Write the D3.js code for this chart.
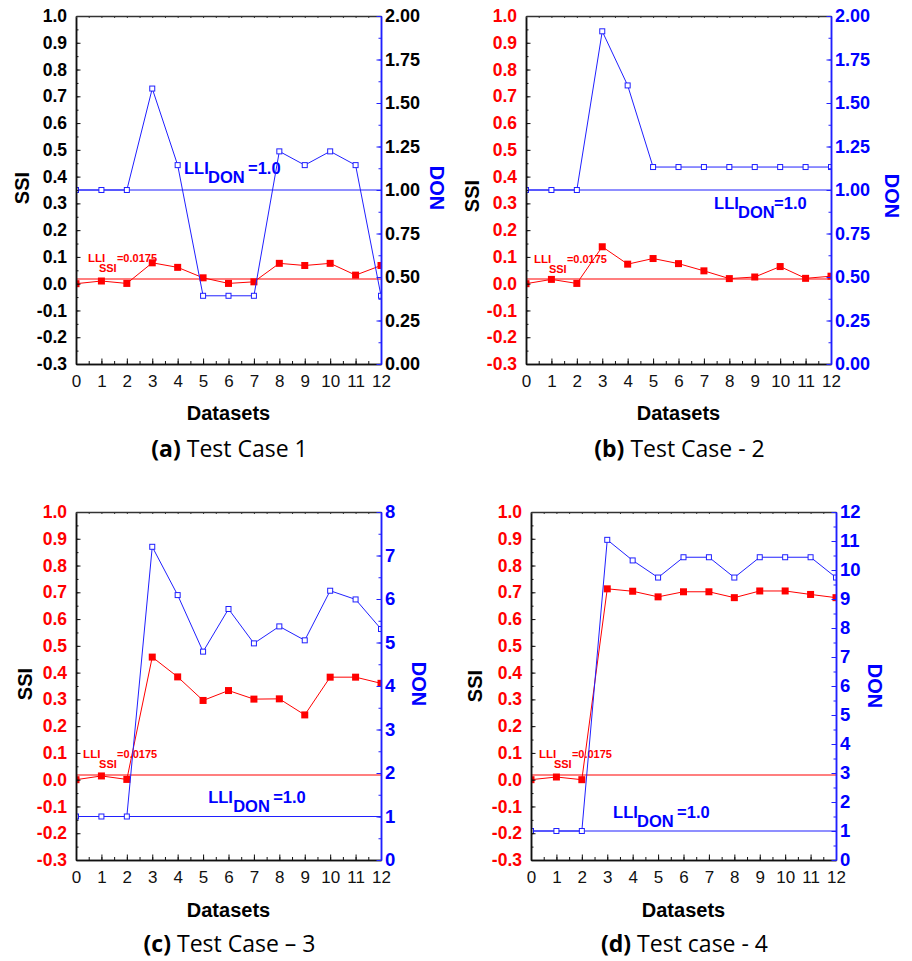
<!DOCTYPE html>
<html>
<head>
<meta charset="utf-8">
<script src="https://cdn.jsdelivr.net/npm/d3@7"></script>
<style>
  body { margin: 0; background: #fff; }
  svg text { font-family: "Liberation Sans", Arial, sans-serif; }
</style>
</head>
<body>
<div id="container"></div>
<script>
// Data
const datasets = d3.range(0, 13);
const ssiTicks = d3.range(-3, 11).map(d => d / 10);
const ssiMinor = d3.range(-6, 21).map(d => d / 20);

const ssiCase1 = [0.000, 0.010, 0.001, 0.078, 0.061, 0.022, 0.001, 0.007, 0.076, 0.068, 0.076, 0.032, 0.068];
const donCase1 = [1.00, 1.00, 1.00, 1.583, 1.143, 0.392, 0.392, 0.392, 1.222, 1.143, 1.222, 1.143, 0.392];
const ssiCase2 = [0.000, 0.016, 0.001, 0.138, 0.073, 0.094, 0.075, 0.048, 0.019, 0.025, 0.064, 0.020, 0.028];
const donCase2 = [1.00, 1.00, 1.00, 1.912, 1.601, 1.132, 1.132, 1.132, 1.132, 1.132, 1.132, 1.132, 1.132];
const ssiCase3 = [0.000, 0.014, 0.001, 0.458, 0.384, 0.296, 0.333, 0.301, 0.302, 0.242, 0.383, 0.383, 0.360];
const donCase3 = [1.00, 1.00, 1.00, 7.20, 6.09, 4.79, 5.77, 4.98, 5.37, 5.05, 6.19, 5.99, 5.31];
const ssiCase4 = [0.000, 0.010, 0.000, 0.713, 0.704, 0.683, 0.702, 0.702, 0.680, 0.705, 0.705, 0.692, 0.680];
const donCase4 = [1.00, 1.00, 1.00, 11.04, 10.33, 9.74, 10.44, 10.44, 9.74, 10.44, 10.44, 10.44, 9.74];

const lliSSI = 0.0175;
const lliDON = 1.0;

const donTicksSmall = d3.range(0, 9).map(d => d / 4);     // 0.00 .. 2.00
const donMinorSmall = d3.range(0, 17).map(d => d / 8);
const donTicks8 = d3.range(0, 9);
const donMinor8 = d3.range(0, 17).map(d => d / 2);
const donTicks12 = d3.range(0, 13);
const donMinor12 = d3.range(0, 25).map(d => d / 2);

const captionTags = ["(a)", "(b)", "(c)", "(d)"];
const captionTexts = [" Test Case 1", " Test Case - 2", " Test Case \u2013 3", " Test case - 4"];

const RED = "#ff0000";
const BLUE = "#0000ff";
const LINE_BLUE = "#2020ff";

const width = 912, height = 961;

// Panel layout (pixel boxes) + per-panel styling
const panels = [
  { x0: 76, x1: 381, y0: 16, y1: 364, ssi: ssiCase1, don: donCase1, donMax: 2, donTicks: donTicksSmall, donMinor: donMinorSmall, donFmt: d => d.toFixed(2),
    leftColor: "#000", rightColor: "#000", rightSize: 18,
    ssiLab: [0.47, 0.081, 11, 29], donLab: [4.25, 0.41, 24, 64], ssiTitleX: 22, donTitleX: 437, titleY: 188, dataY: 420, capY: 457 },
  { x0: 526, x1: 831, y0: 16, y1: 364, ssi: ssiCase2, don: donCase2, donMax: 2, donTicks: donTicksSmall, donMinor: donMinorSmall, donFmt: d => d.toFixed(2),
    leftColor: RED, rightColor: BLUE, rightSize: 18,
    ssiLab: [0.31, 0.077, 15, 33], donLab: [7.40, 0.279, 24, 60], ssiTitleX: 472, donTitleX: 892, titleY: 196, dataY: 420, capY: 457 },
  { x0: 76, x1: 381, y0: 512, y1: 860, ssi: ssiCase3, don: donCase3, donMax: 8, donTicks: donTicks8, donMinor: donMinor8, donFmt: d3.format("d"),
    leftColor: RED, rightColor: BLUE, rightSize: 18.5,
    ssiLab: [0.28, 0.081, 16, 34], donLab: [5.2, -0.087, 25, 65], ssiTitleX: 25, donTitleX: 419, titleY: 684, dataY: 917, capY: 952 },
  { x0: 531, x1: 836, y0: 512, y1: 860, ssi: ssiCase4, don: donCase4, donMax: 12, donTicks: donTicks12, donMinor: donMinor12, donFmt: d3.format("d"),
    leftColor: RED, rightColor: BLUE, rightSize: 18.5,
    ssiLab: [0.31, 0.081, 15, 33], donLab: [3.23, -0.143, 24, 64], ssiTitleX: 475, donTitleX: 875, titleY: 686, dataY: 917, capY: 952 }
];

const svg = d3.select("#container").append("svg")
  .attr("width", width)
  .attr("height", height);

panels.forEach((p, i) => {
  const g = svg.append("g");
  const x = d3.scaleLinear().domain([0, 12]).range([p.x0, p.x1]);
  const yS = d3.scaleLinear().domain([-0.3, 1.0]).range([p.y1, p.y0]);
  const yD = d3.scaleLinear().domain([0, p.donMax]).range([p.y1, p.y0]);

  const clipId = "clip" + i;
  g.append("clipPath").attr("id", clipId)
    .append("rect")
    .attr("x", p.x0).attr("y", p.y0)
    .attr("width", p.x1 - p.x0).attr("height", p.y1 - p.y0);

  // annotations (drawn under the lines)
  const [sx, sy, sSub, sEq] = p.ssiLab;
  const ax = x(sx), ay = yS(sy);
  const ann = g.append("g").attr("fill", RED).attr("font-weight", "bold");
  ann.append("text").attr("x", ax).attr("y", ay).attr("font-size", 11.5).text("LLI");
  ann.append("text").attr("x", ax + sSub).attr("y", ay + 10).attr("font-size", 11).text("SSI");
  ann.append("text").attr("x", ax + sEq).attr("y", ay).attr("font-size", 11).text("=0.0175");

  const [dx, dy, dSub, dEq] = p.donLab;
  const bx = x(dx), by = yS(dy);
  const ann2 = g.append("g").attr("fill", BLUE).attr("font-weight", "bold").attr("font-size", 16.5);
  ann2.append("text").attr("x", bx).attr("y", by).text("LLI");
  ann2.append("text").attr("x", bx + dSub).attr("y", by + 9).text("DON");
  ann2.append("text").attr("x", bx + dEq).attr("y", by).text("=1.0");

  const plot = g.append("g").attr("clip-path", `url(#${clipId})`);

  // reference lines
  plot.append("line")
    .attr("x1", p.x0).attr("x2", p.x1)
    .attr("y1", yS(lliSSI)).attr("y2", yS(lliSSI))
    .attr("stroke", RED).attr("stroke-width", 1.2);
  plot.append("line")
    .attr("x1", p.x0).attr("x2", p.x1)
    .attr("y1", yD(lliDON)).attr("y2", yD(lliDON))
    .attr("stroke", LINE_BLUE).attr("stroke-width", 1.2);

  // SSI series
  plot.append("path")
    .datum(p.ssi)
    .attr("fill", "none").attr("stroke", RED).attr("stroke-width", 1)
    .attr("d", d3.line().x((d, j) => x(datasets[j])).y(d => yS(d)));
  plot.selectAll(".ssiPt").data(p.ssi).enter().append("rect")
    .attr("class", "ssiPt")
    .attr("x", (d, j) => x(datasets[j]) - 3.5)
    .attr("y", d => yS(d) - 3.5)
    .attr("width", 7).attr("height", 7)
    .attr("fill", RED);

  // DON series
  plot.append("path")
    .datum(p.don)
    .attr("fill", "none").attr("stroke", LINE_BLUE).attr("stroke-width", 1)
    .attr("d", d3.line().x((d, j) => x(datasets[j])).y(d => yD(d)));
  plot.selectAll(".donPt").data(p.don).enter().append("rect")
    .attr("class", "donPt")
    .attr("x", (d, j) => x(datasets[j]) - 2.5)
    .attr("y", d => yD(d) - 2.5)
    .attr("width", 5).attr("height", 5)
    .attr("fill", "#fff").attr("stroke", LINE_BLUE).attr("stroke-width", 1);

  // axes
  const styleAxis = (sel, color, width) => {
    sel.select(".domain").attr("stroke", color).attr("stroke-width", width);
    sel.selectAll(".tick line").attr("stroke", color).attr("stroke-width", 1);
  };

  // left minor + major
  g.append("g").attr("transform", `translate(${p.x0},0)`)
    .call(d3.axisLeft(yS).tickValues(ssiMinor).tickSizeInner(-2.5).tickSizeOuter(0).tickFormat(""))
    .call(s => styleAxis(s, "#111", 1.5));
  const left = g.append("g").attr("transform", `translate(${p.x0},0)`)
    .call(d3.axisLeft(yS).tickValues(ssiTicks).tickSizeInner(-4.5).tickSizeOuter(0).tickPadding(9).tickFormat(d => d.toFixed(1)))
    .call(s => styleAxis(s, "#111", 1.5));
  left.selectAll("text")
    .attr("fill", p.leftColor).attr("font-size", 17.5).attr("font-weight", "bold")
    .attr("font-family", "'Liberation Sans', Arial, sans-serif");

  // bottom
  g.append("g").attr("transform", `translate(0,${p.y1})`)
    .call(d3.axisBottom(x).tickValues(d3.range(0, 12.5, 0.5)).tickSizeInner(-3).tickSizeOuter(0).tickFormat(""))
    .call(s => styleAxis(s, "#111", 1.5));
  const bottom = g.append("g").attr("transform", `translate(0,${p.y1})`)
    .call(d3.axisBottom(x).tickValues(datasets).tickSizeInner(-5.5).tickSizeOuter(0).tickPadding(11).tickFormat(d3.format("d")))
    .call(s => styleAxis(s, "#111", 1.5));
  bottom.selectAll("text")
    .attr("fill", "#111").attr("font-size", 17)
    .attr("font-family", "'Open Sans', sans-serif");

  // top
  g.append("g").attr("transform", `translate(0,${p.y0})`)
    .call(d3.axisTop(x).tickValues(d3.range(0, 12.5, 0.5)).tickSizeInner(-2).tickSizeOuter(0).tickFormat(""))
    .call(s => styleAxis(s, "#333", 1.5));

  // right (DON)
  g.append("g").attr("transform", `translate(${p.x1},0)`)
    .call(d3.axisRight(yD).tickValues(p.donMinor).tickSizeInner(-2.5).tickSizeOuter(0).tickFormat(""))
    .call(s => styleAxis(s, LINE_BLUE, 1.5));
  const right = g.append("g").attr("transform", `translate(${p.x1},0)`)
    .call(d3.axisRight(yD).tickValues(p.donTicks).tickSizeInner(-4.5).tickSizeOuter(0).tickPadding(4).tickFormat(p.donFmt))
    .call(s => styleAxis(s, LINE_BLUE, 1.5));
  right.selectAll("text")
    .attr("fill", p.rightColor).attr("font-size", p.rightSize).attr("font-weight", "bold")
    .attr("font-family", "'Liberation Sans', Arial, sans-serif");

  // titles
  g.append("text")
    .attr("transform", `translate(${p.ssiTitleX},${p.titleY}) rotate(-90)`)
    .attr("text-anchor", "middle").attr("dy", "0.35em")
    .attr("font-size", 20).attr("font-weight", "bold").attr("fill", "#000")
    .text("SSI");
  g.append("text")
    .attr("transform", `translate(${p.donTitleX},${p.titleY}) rotate(90)`)
    .attr("text-anchor", "middle").attr("dy", "0.35em")
    .attr("font-size", 20).attr("font-weight", "bold").attr("fill", BLUE)
    .text("DON");
  g.append("text")
    .attr("x", (p.x0 + p.x1) / 2).attr("y", p.dataY)
    .attr("text-anchor", "middle")
    .attr("font-size", 20).attr("font-weight", "bold").attr("fill", "#000")
    .text("Datasets");

  // caption
  const cap = g.append("text")
    .attr("x", (p.x0 + p.x1) / 2 + 1).attr("y", p.capY)
    .attr("text-anchor", "middle")
    .attr("font-size", 23).attr("fill", "#000")
    .style("font-family", "'Open Sans', sans-serif");
  cap.append("tspan").attr("font-weight", "bold").text(captionTags[i]);
  cap.append("tspan").text(captionTexts[i]);
});
</script>
</body>
</html>
